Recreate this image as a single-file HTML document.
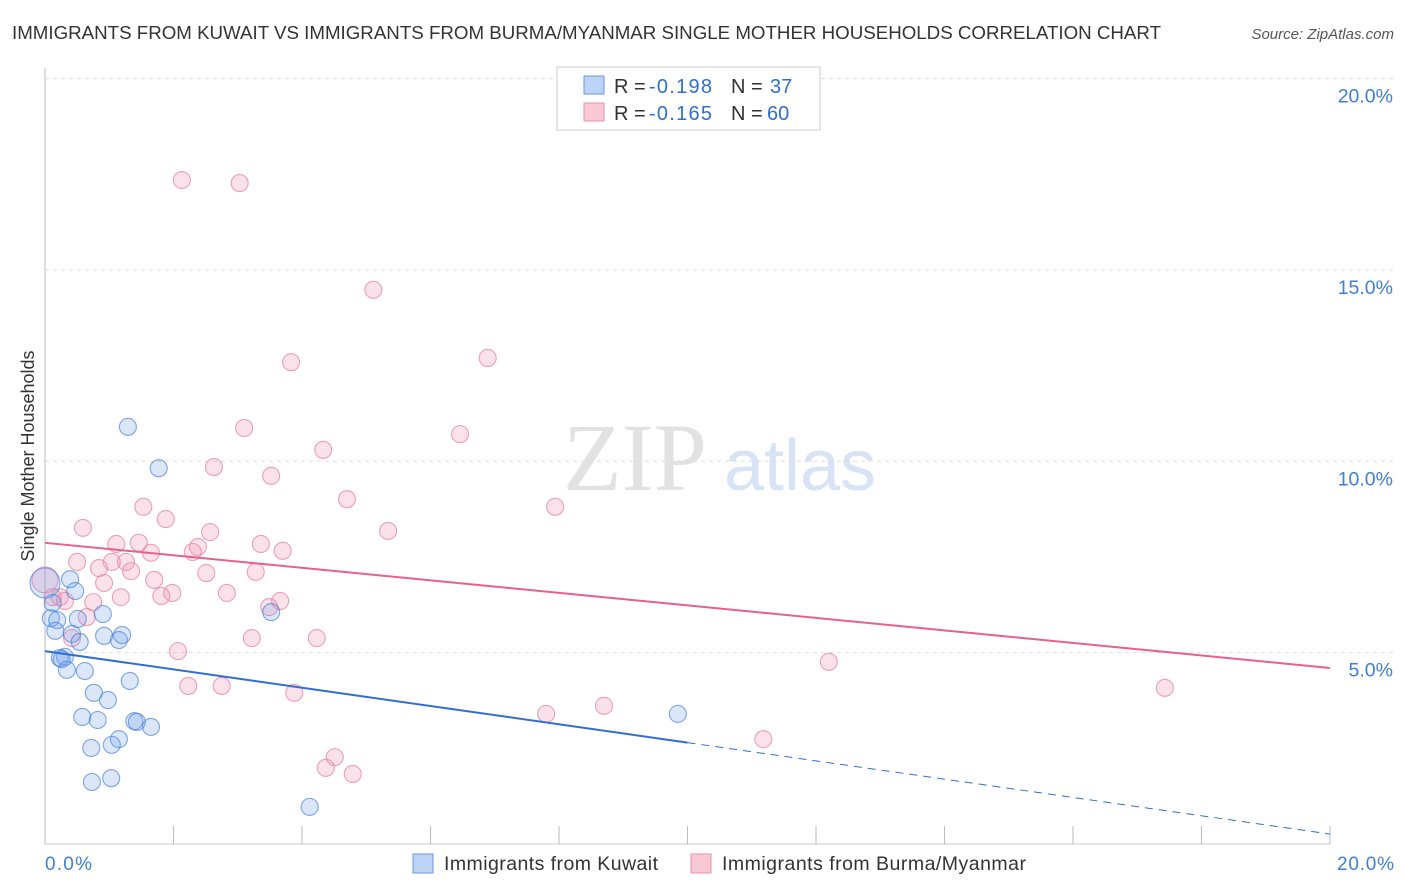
<!DOCTYPE html>
<html><head><meta charset="utf-8"><style>
body{margin:0;background:#fff;font-family:"Liberation Sans",sans-serif}
svg{display:block}
</style></head><body>
<svg width="1406" height="892" id="chart">
<text x="12" y="39" font-size="18.5" fill="#333" textLength="1149" lengthAdjust="spacingAndGlyphs">IMMIGRANTS FROM KUWAIT VS IMMIGRANTS FROM BURMA/MYANMAR SINGLE MOTHER HOUSEHOLDS CORRELATION CHART</text>
<text x="1394" y="39" font-size="15" fill="#555" font-style="italic" text-anchor="end">Source: ZipAtlas.com</text>
<text x="635" y="490" font-size="96" fill="#e2e2e2" font-family="Liberation Serif,serif" text-anchor="middle">ZIP</text>
<text x="800" y="490" font-size="72" fill="#d6e4f5" text-anchor="middle">atlas</text>
<text transform="translate(34,456) rotate(-90)" font-size="18" fill="#333" text-anchor="middle">Single Mother Households</text>
<g id="grid"></g><g id="pts"></g><g id="lines"></g>
<g>
<rect x="557" y="67" width="263" height="63" fill="#fff" stroke="#ccc"/>
<rect x="584" y="76" width="20" height="18" fill="#bcd3f5" stroke="#6a9ae0"/>
<rect x="584" y="103" width="20" height="18" fill="#f8c8d6" stroke="#e891ab"/>
<text y="93" font-size="20" fill="#333"><tspan x="614">R =</tspan><tspan x="649" fill="#2f6fd0" textLength="63">-0.198</tspan><tspan x="731">N =</tspan><tspan x="770" fill="#2f6fd0">37</tspan></text>
<text y="120" font-size="20" fill="#333"><tspan x="614">R =</tspan><tspan x="649" fill="#2f6fd0" textLength="63">-0.165</tspan><tspan x="731">N =</tspan><tspan x="767" fill="#2f6fd0">60</tspan></text>
</g>
<text x="45" y="870" font-size="19" fill="#3f7fd6" textLength="47">0.0%</text>
<text x="1337" y="870" font-size="19" fill="#3f7fd6" textLength="57">20.0%</text>
<g>
<rect x="413" y="854" width="20" height="19" fill="#bcd3f5" stroke="#6a9ae0"/>
<text x="444" y="870" font-size="19.5" fill="#333" textLength="214">Immigrants from Kuwait</text>
<rect x="691" y="854" width="20" height="19" fill="#f8c8d6" stroke="#e891ab"/>
<text x="722" y="870" font-size="19.5" fill="#333" textLength="304">Immigrants from Burma/Myanmar</text>
</g>
</svg>
<script>
const yTicks=[5,10,15,20];
const blueX=[1.29,1.77,0.39,0.47,0.09,0.19,0.90,0.51,0.16,0.42,1.20,1.15,0.92,0.54,0.31,0.23,0.26,0.34,0.62,1.32,0.76,0.98,0.58,0.82,1.39,1.43,1.65,1.15,1.04,0.72,1.03,0.73,3.52,4.12,9.85,0.12,0.0];
const blueY=[10.90,9.82,6.92,6.61,5.90,5.85,6.01,5.88,5.57,5.49,5.46,5.33,5.44,5.28,4.89,4.86,4.83,4.55,4.52,4.26,3.95,3.76,3.32,3.24,3.21,3.19,3.06,2.74,2.59,2.51,1.72,1.62,6.06,0.97,3.40,6.30,6.82];
const pinkX=[2.13,3.03,5.11,3.83,6.89,6.46,3.10,4.33,2.63,3.52,4.70,7.94,1.53,1.88,0.59,2.57,5.34,1.11,1.46,2.38,3.36,2.30,3.70,1.65,0.50,1.04,1.26,0.84,1.34,2.51,3.28,1.70,0.92,1.98,1.81,2.83,1.18,0.23,0.12,0.31,0.75,3.66,3.49,0.65,0.42,3.22,4.23,2.07,12.20,2.23,2.75,3.88,17.43,8.70,7.80,11.18,4.51,4.37,4.79,0.0];
const pinkY=[17.35,17.27,14.48,12.59,12.70,10.71,10.87,10.30,9.85,9.62,9.01,8.81,8.81,8.49,8.26,8.15,8.18,7.84,7.87,7.76,7.84,7.63,7.66,7.61,7.37,7.37,7.37,7.21,7.13,7.08,7.11,6.90,6.82,6.56,6.48,6.56,6.45,6.45,6.45,6.35,6.32,6.35,6.19,5.93,5.38,5.38,5.38,5.04,4.76,4.13,4.13,3.95,4.08,3.61,3.40,2.74,2.27,1.99,1.83,6.90];
const blueTrend=[5.04,0.26];
const pinkTrend=[7.87,4.60];
const NS='http://www.w3.org/2000/svg';
const X=v=>45+v*64.25, Y=v=>844-v*38.27;
function mk(tag,at,parent){const e=document.createElementNS(NS,tag);for(const k in at)e.setAttribute(k,at[k]);parent.appendChild(e);return e;}
const grid=document.getElementById('grid');
const ax=mk('line',{x1:45,y1:68,x2:45,y2:844,stroke:'#bbb'},grid);


const bx=mk('line',{x1:45,y1:844,x2:1330,y2:844,stroke:'#ccc'},grid);


for(let i=0;i<=10;i++){const t=mk('line',{x1:X(i*2),y1:826,x2:X(i*2),y2:844,stroke:'#bbb'},grid);

}
yTicks.forEach(v=>{const g=mk('line',{x1:45,y1:Y(v),x2:1393,y2:Y(v),stroke:'#ddd','stroke-dasharray':'4,4'},grid);


const t=mk('text',{x:1393,y:Y(v)+24,'font-size':19.5,fill:'#3f7fd6','text-anchor':'end'},grid);t.textContent=v.toFixed(1)+'%';

});
const pts=document.getElementById('pts');
pinkX.forEach((x,i)=>{const r=(i===pinkX.length-1)?13:8.5;const c=mk('circle',{cx:X(x),cy:Y(pinkY[i]),r:r,fill:'rgba(240,150,180,0.28)',stroke:'rgba(230,130,165,0.75)','stroke-width':1.1},pts);

});
blueX.forEach((x,i)=>{const r=(i===blueX.length-1)?15:8.5;const c=mk('circle',{cx:X(x),cy:Y(blueY[i]),r:r,fill:'rgba(110,160,230,0.25)',stroke:'rgba(70,130,220,0.7)','stroke-width':1.1},pts);

});
const L=document.getElementById('lines');
const by=v=>blueTrend[0]+(blueTrend[1]-blueTrend[0])*v/20;
const l1=mk('line',{x1:X(0),y1:Y(by(0)),x2:X(10),y2:Y(by(10)),stroke:'#2f6fd0','stroke-width':2},L);


const l2=mk('line',{x1:X(10),y1:Y(by(10)),x2:X(20),y2:Y(by(20)),stroke:'#2f6fd0','stroke-width':1,'stroke-dasharray':'8,6'},L);


const l3=mk('line',{x1:X(0),y1:Y(pinkTrend[0]),x2:X(20),y2:Y(pinkTrend[1]),stroke:'#e8608f','stroke-width':2},L);


</script>
</body></html>
